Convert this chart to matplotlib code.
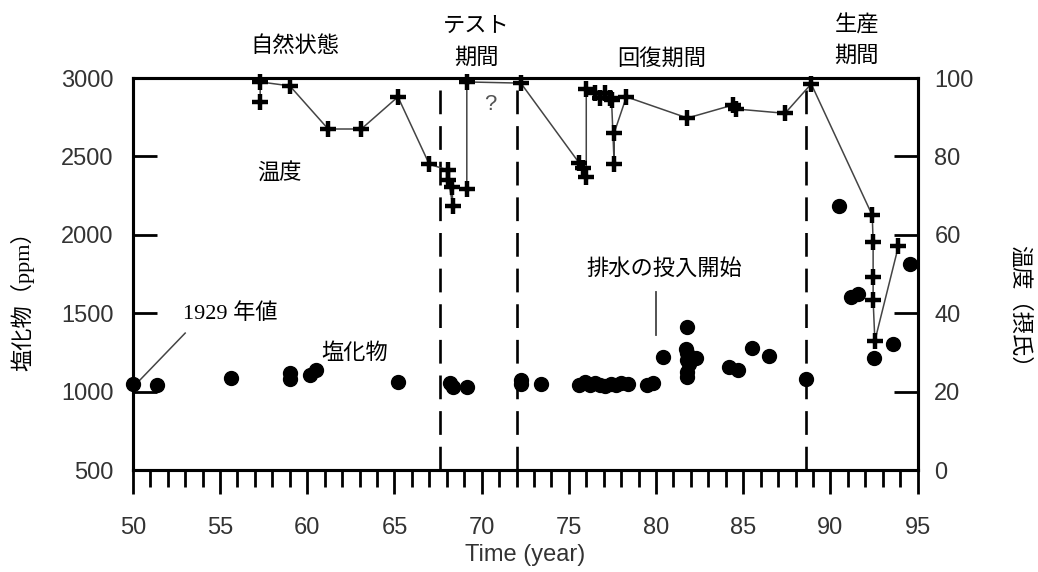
import matplotlib
matplotlib.use("Agg")
import matplotlib.pyplot as plt
from matplotlib import font_manager
from matplotlib.ticker import MultipleLocator

plt.rcParams['font.family'] = ['Liberation Sans', 'Noto Sans CJK JP', 'DejaVu Sans']
jp = ['Noto Sans CJK JP', 'DejaVu Sans']
serif_jp = ['Liberation Serif', 'Noto Sans CJK JP']

# narrow digits like the original, if the narrow face is there
names = {f.name for f in font_manager.fontManager.ttflist}
if 'Liberation Sans Narrow' in names:
    num_font, num_size = 'Liberation Sans Narrow', 19
else:
    num_font, num_size = 'Liberation Sans', 17

# temperature (right axis), in drawing order
temp_year = [57.3, 57.3, 59.0, 61.2, 63.1, 65.2, 67.0, 68.1, 68.1, 68.35, 68.3, 69.15, 69.15,
             72.25, 75.6, 75.8, 76.0, 76.0, 76.5, 76.8, 77.05, 77.35, 77.45, 77.6, 77.6, 78.3,
             81.8, 84.4, 84.6, 87.4, 88.9, 92.4, 92.45, 92.45, 92.45, 92.55, 93.9]
temp_val = [94, 99, 98, 87, 87, 95.2, 78, 76.5, 74, 67.3, 72.3, 71.7, 99,
            98.7, 78.3, 77, 74.7, 97.2, 96.2, 95, 96.2, 95, 94.4, 78, 86, 95.2,
            89.8, 93.1, 92.1, 91, 98.5, 65, 58.2, 49.2, 43.4, 33, 57.1]

# chloride (left axis)
cl_year = [50.0, 51.4, 55.6, 59.0, 59.0, 60.15, 60.5, 65.2, 68.2, 68.35, 69.15, 72.25, 72.25,
           73.4, 75.6, 75.9, 76.2, 76.5, 76.8, 77.1, 77.4, 77.7, 78.0, 78.4, 79.5, 79.8,
           80.4, 81.8, 81.8, 82.3, 81.8, 81.8, 81.9, 81.7, 81.8, 84.2, 84.7, 85.5, 86.5,
           88.6, 90.5, 91.2, 91.6, 92.5, 93.6, 94.55]
cl_val = [1048, 1042, 1087, 1119, 1080, 1106, 1138, 1061, 1055, 1030, 1030, 1074, 1048,
          1048, 1045, 1060, 1040, 1055, 1045, 1035, 1050, 1040, 1055, 1050, 1042, 1055,
          1221, 1412, 1246, 1214, 1125, 1093, 1180, 1270, 1200, 1157, 1138, 1278, 1227,
          1080, 2184, 1603, 1622, 1214, 1303, 1814]

phase_bounds = [67.6, 72.0, 88.6]
phase_names = [("自然状態", 59.3, 1.084), ("テスト", 69.7, 1.135), ("期間", 69.7, 1.054),
               ("回復期間", 80.3, 1.051), ("生産", 91.5, 1.135), ("期間", 91.5, 1.059)]

fig = plt.figure(figsize=(10.38, 5.72), dpi=100)
ax = fig.add_axes([0.128, 0.178, 0.756, 0.6856])
ax2 = ax.twinx()

ax.set_xlim(50, 95)
ax.set_ylim(500, 3000)
ax2.set_ylim(0, 100)

for xb in phase_bounds:
    ax.axvline(xb, color='black', lw=1.9, dashes=(9, 4.5))

ax.plot(cl_year, cl_val, 'o', color='black', ms=10, zorder=3, clip_on=False)
ax2.plot(temp_year, temp_val, '-', color='#444444', lw=1.1, zorder=2)
ax2.plot(temp_year, temp_val, '+', color='black', ms=12, mew=3.2, zorder=3, clip_on=False)

for s in ax.spines.values():
    s.set_linewidth(2.2)
for s in ax2.spines.values():
    s.set_linewidth(2.2)

ax.xaxis.set_major_locator(MultipleLocator(5))
ax.xaxis.set_minor_locator(MultipleLocator(1))
ax.yaxis.set_major_locator(MultipleLocator(500))
ax2.yaxis.set_major_locator(MultipleLocator(20))
ax.tick_params(axis='x', which='major', direction='out', length=17, width=2, pad=17,
               labelcolor='#333333')
ax.tick_params(axis='x', which='minor', direction='out', length=12, width=2)
ax.tick_params(axis='y', direction='in', length=17, width=2, pad=14, labelcolor='#333333')
ax2.tick_params(axis='y', direction='in', length=17, width=2, pad=12, labelcolor='#333333')
for lab in ax.get_xticklabels() + ax.get_yticklabels() + ax2.get_yticklabels():
    lab.set_family(num_font)
    lab.set_fontsize(num_size)

# texts inside
ax.text(58.4, 2400, "温度", family=jp, fontsize=16, ha='center', va='center')
ax.text(62.7, 1253, "塩化物", family=jp, fontsize=16, ha='center', va='center')
ax.text(70.5, 2834, "?", fontsize=16, color='#555555', ha='center', va='center')
ax.text(55.6, 1501, "1929 年値", family=serif_jp, fontsize=16, ha='center', va='center')
ax.plot([50.4, 53.0], [1074, 1374], color='#444444', lw=1.1)
ax.text(80.5, 1788, "排水の投入開始", family=jp, fontsize=16, ha='center', va='center')
ax.plot([80.0, 80.0], [1361, 1635], color='#444444', lw=1.3)

for name, xp, yp in phase_names:
    ax.text(xp, yp, name, family=jp, fontsize=16, ha='center', va='center',
            transform=ax.get_xaxis_transform())

fig.text(0.021, 0.484, "塩化物（ppm）", family=serif_jp, fontsize=16, rotation=90,
         ha='center', va='center')
fig.text(0.983, 0.455, "温度（摂氏）", family=jp, fontsize=16, rotation=-90,
         ha='center', va='center')
fig.text(0.506, 0.03, "Time (year)", family=num_font, fontsize=num_size, color='#333333',
         ha='center', va='center')

fig.savefig("out.png", dpi=100)
